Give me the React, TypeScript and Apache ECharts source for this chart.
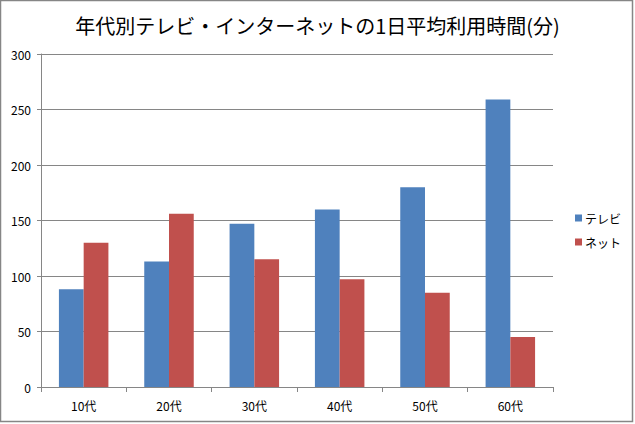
import React, { useEffect, useRef } from "react";
import * as echarts from "echarts";

const categories = ["10代", "20代", "30代", "40代", "50代", "60代"];
const tvValues = [88, 113, 147, 160, 180, 259];
const netValues = [130, 156, 115, 97, 85, 45];
const seriesNames = ["テレビ", "ネット"];
const titleText = "年代別テレビ・インターネットの1日平均利用時間(分)";

const FONT = "'Noto Sans CJK JP', 'Noto Sans', sans-serif";

export default function App() {
  const ref = useRef<HTMLDivElement>(null);
  useEffect(() => {
    document.body.style.margin = "0";
    const chart = echarts.init(ref.current!, null, { renderer: "svg" });
    chart.setOption({
      animation: false,
      backgroundColor: "#ffffff",
      textStyle: { fontFamily: FONT },
      title: {
        text: titleText,
        left: "center",
        top: 10,
        textStyle: { fontFamily: FONT, fontSize: 20, fontWeight: "normal", color: "#000" },
      },
      graphic: [
        {
          type: "rect",
          shape: { x: 0.5, y: 0.5, width: 632, height: 421 },
          style: { fill: "none", stroke: "#868686", lineWidth: 1.5 },
          silent: true,
        },
      ],
      legend: {
        orient: "vertical",
        left: 570,
        top: 207,
        itemWidth: 7,
        itemHeight: 7,
        itemGap: 12,
        icon: "rect",
        textStyle: { fontFamily: FONT, fontSize: 12, color: "#000", padding: [0, 0, 0, -2] },
        data: seriesNames,
      },
      grid: { left: 41, right: 82, top: 54, bottom: 37, containLabel: false },
      xAxis: {
        type: "category",
        data: categories,
        axisLine: { lineStyle: { color: "#868686" } },
        axisTick: { show: true, length: 5, lineStyle: { color: "#868686" } },
        axisLabel: { fontFamily: FONT, fontSize: 12, color: "#000", margin: 12 },
      },
      yAxis: {
        type: "value",
        min: 0,
        max: 300,
        interval: 50,
        axisLine: { show: true, lineStyle: { color: "#868686" } },
        axisTick: { show: true, length: 4, lineStyle: { color: "#868686" } },
        axisLabel: { fontFamily: FONT, fontSize: 12, color: "#000", margin: 10 },
        splitLine: { lineStyle: { color: "#868686" } },
      },
      series: [
        {
          name: seriesNames[0],
          type: "bar",
          data: tvValues,
          itemStyle: { color: "#4F81BD" },
          barGap: "0%",
          barCategoryGap: "42%",
        },
        {
          name: seriesNames[1],
          type: "bar",
          data: netValues,
          itemStyle: { color: "#C0504D" },
          barGap: "0%",
          barCategoryGap: "42%",
        },
      ],
    });
    return () => chart.dispose();
  }, []);
  return <div ref={ref} style={{ width: 635, height: 424 }} />;
}
